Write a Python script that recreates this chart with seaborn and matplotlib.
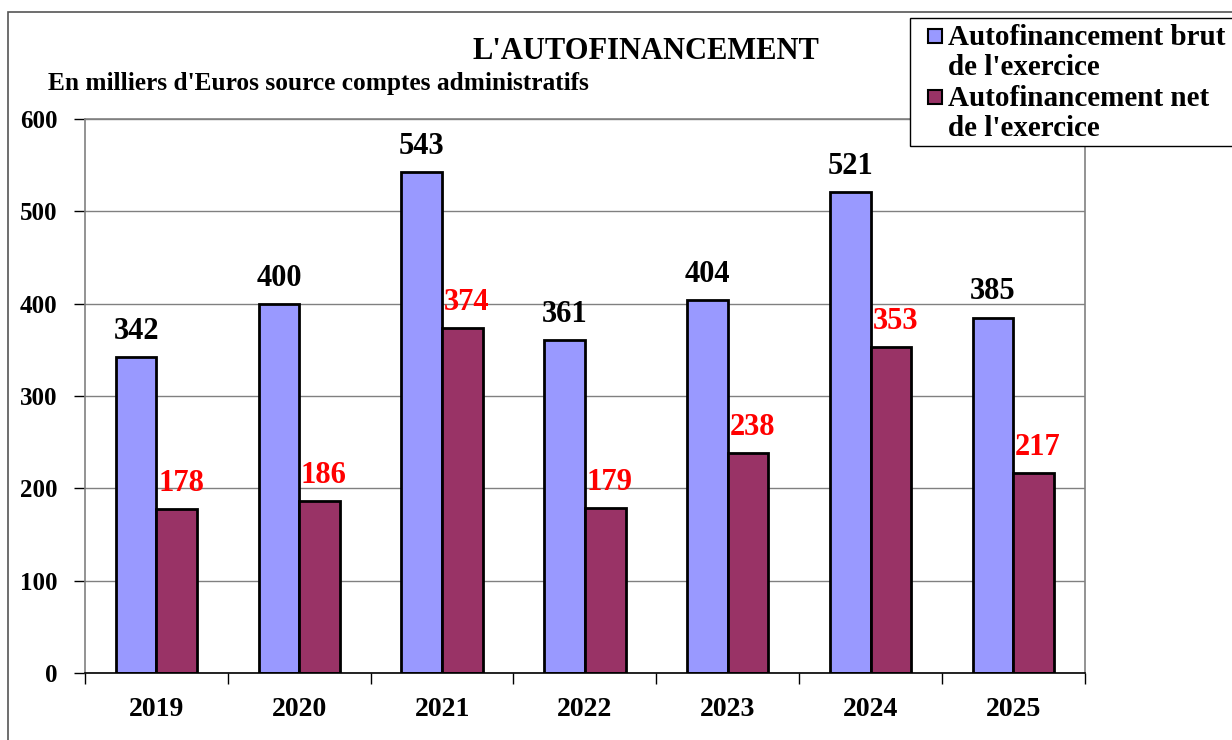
import pandas as pd
import matplotlib.pyplot as plt
import seaborn as sns
from matplotlib.patches import Rectangle

# Data (milliers d'Euros)
annees = ['2019', '2020', '2021', '2022', '2023', '2024', '2025']
brut = [342, 400, 543, 361, 404, 521, 385]
net = [178, 186, 374, 179, 238, 353, 217]
series = ["Autofinancement brut\nde l'exercice", "Autofinancement net\nde l'exercice"]
couleurs = ['#9999FF', '#993366']

df = pd.DataFrame({
    'annee': annees * 2,
    'valeur': brut + net,
    'serie': [series[0]] * len(annees) + [series[1]] * len(annees),
})

sns.set_style('white')
plt.rcParams['font.family'] = ['Liberation Serif', 'DejaVu Serif']
plt.rcParams['font.weight'] = 'bold'
plt.rcParams['text.color'] = 'black'
plt.rcParams['xtick.color'] = 'black'
plt.rcParams['ytick.color'] = 'black'

fig = plt.figure(figsize=(12.32, 7.4), dpi=100)
ax = fig.add_axes([0.069, 0.0905, 0.8115, 0.7487])

# outer frame of the chart area
fig.patches.append(Rectangle((0.0065, -0.05), 1.1, 1.034, transform=fig.transFigure,
                             fill=False, edgecolor='#555555', linewidth=1.2))

sns.barplot(data=df, x='annee', y='valeur', hue='serie', palette=couleurs, saturation=1,
            width=0.57, edgecolor='black', linewidth=2, ax=ax, legend=False)

ax.set_ylim(0, 600)
ax.set_yticks(range(0, 601, 100))
ax.yaxis.grid(True, color='#808080', linewidth=1)
ax.set_axisbelow(True)
ax.set_xlabel('')
ax.set_ylabel('')
for side in ['top', 'right', 'left']:
    ax.spines[side].set_color('#808080')
    ax.spines[side].set_linewidth(1.2)
ax.spines['bottom'].set_color('black')
ax.spines['bottom'].set_linewidth(1.2)

ax.tick_params(axis='y', labelsize=18, length=8, width=1, color='black', left=True, pad=12)
ax.tick_params(axis='x', labelsize=20, length=0, pad=17)
# ticks at category boundaries
ax.set_xticks([i - 0.5 for i in range(len(annees) + 1)], minor=True)
ax.tick_params(axis='x', which='minor', length=8, width=1, color='black', bottom=True)
ax.set_xlim(-0.5, len(annees) - 0.5)

# value labels
for c, cont in enumerate(ax.containers):
    col = 'black' if c == 0 else 'red'
    for bar in cont:
        h = bar.get_height()
        x = bar.get_x() + bar.get_width() / 2
        if c == 1:
            x += 0.03
        ax.text(x, h + 12, f'{h:.0f}', ha='center', va='bottom', fontsize=22,
                fontweight='bold', color=col)

fig.text(0.524, 0.931, "L'AUTOFINANCEMENT", ha='center', va='center', fontsize=22, fontweight='bold')
fig.text(0.039, 0.887, "En milliers d'Euros source comptes administratifs", ha='left', va='center',
         fontsize=18.3, fontweight='bold')

# legend box drawn by hand so the swatches sit on the first line of each entry
fig.patches.append(Rectangle((910 / 1232, 1 - 146 / 740), 0.3, 128 / 740, transform=fig.transFigure,
                             facecolor='white', edgecolor='black', linewidth=1, zorder=5))
for i, lab in enumerate(series):
    y_top = 1 - (36 + 61 * i) / 740
    fig.patches.append(Rectangle((928 / 1232, y_top - 7 / 740), 14 / 1232, 14 / 740,
                                 transform=fig.transFigure, facecolor=couleurs[i],
                                 edgecolor='black', linewidth=1.5, zorder=6))
    fig.text(948 / 1232, y_top + 12 / 740, lab, ha='left', va='top', fontsize=21,
             fontweight='bold', linespacing=1.16, zorder=7)

fig.savefig('out.png', dpi=100)
